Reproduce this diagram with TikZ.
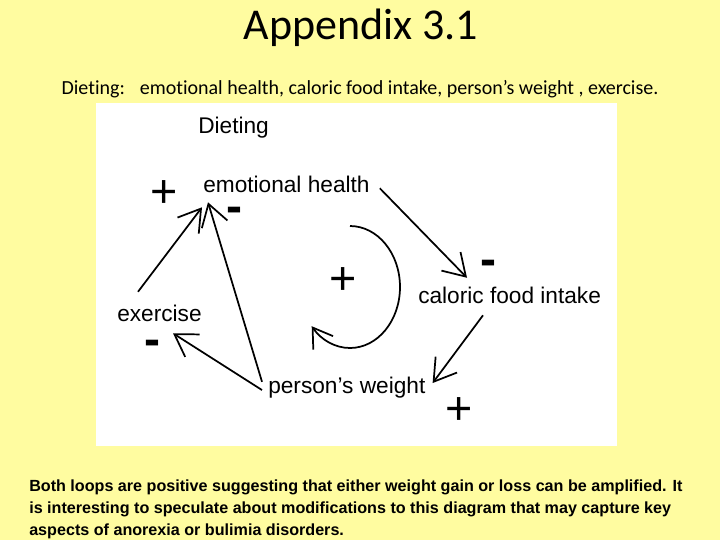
\documentclass[tikz,border=0pt]{standalone}
\usepackage{fontspec}
\setmainfont{Liberation Sans}
\newfontfamily\calib[Ligatures=NoCommon]{Carlito}
\usetikzlibrary{arrows.meta,calc}
\definecolor{bgyellow}{RGB}{255,252,160}
\begin{document}
\begin{tikzpicture}[x=0.75pt,y=-0.75pt,
  lab/.style={font=\fontsize{17}{20}\selectfont, inner sep=0pt, text height=12.5pt, text depth=4pt, anchor=base west},
  plussign/.style={font=\fontsize{35}{35}\selectfont, inner sep=0pt},
  minussign/.style={font=\bfseries\fontsize{36}{36}\selectfont, inner sep=0pt},
  link/.style={line width=1.3pt, -{Straight Barb[length=16pt,width=20pt]}},
  body/.style={font=\bfseries\fontsize{12.1}{15}\selectfont, inner sep=0pt, anchor=base west}
]
\fill[bgyellow] (0,0) rectangle (720,540);
\useasboundingbox (0,0) rectangle (720,540);
\fill[white] (96,103) rectangle (617,446);

\node[font=\calib\fontsize{33}{33}\selectfont, inner sep=0pt, anchor=base] (title) at (361,39) {Appendix 3.1};
\node[font=\calib\fontsize{15}{15}\selectfont, inner sep=0pt, anchor=base] (sub) at (360,94) {Dieting:\hspace{0.75em}emotional health, caloric food intake, person’s weight , exercise.};

\node[lab] (diet) at (198,133) {Dieting};
\node[lab] (eh) at (203,192) {emotional health};
\node[lab] (cf) at (418,303) {caloric food intake};
\node[lab] (ex) at (117,321) {exercise};
\node[lab] (pw) at (268,393) {person’s weight};

\draw[link] ($(ex.north west)+(21,-12.3)$) -- ($(eh.south west)+(-1,9.7)$);
\draw[link] ($(pw.north west)+(-6,5.7)$) -- ($(eh.south west)+(5,4.7)$);
\draw[link] ($(pw.west)+(-6,2.7)$) -- ($(ex.south west)+(56,6.7)$);
\draw[link] ($(eh.east)+(10,2)$) -- ($(cf.north west)+(49,-8.3)$);
\draw[link] ($(cf.south west)+(65,6.7)$) -- ($(pw.east)+(7,-4.3)$);

\node[plussign] (loopsign) at (343,281) {+};
\draw[line width=1.3pt, -{Straight Barb[length=14pt,width=18pt]}] (350,226) arc[start angle=-90, end angle=140, x radius=50, y radius=61];

\node[plussign] (p1) at (164,194) {+};
\node[plussign] (p2) at (459,411) {+};
\node[minussign] (m1) at (234,215) {-};
\node[minussign] (m2) at (488,268) {-};
\node[minussign] (m3) at (152,348) {-};

\node[body] (bt1) at (29,491) {Both loops are positive suggesting that either weight gain or loss can be amplified. It};
\node[body] (bt2) at (29,513) {is interesting to speculate about modifications to this diagram that may capture key};
\node[body] (bt3) at (29,535) {aspects of anorexia or bulimia disorders.};
\end{tikzpicture}
\end{document}
